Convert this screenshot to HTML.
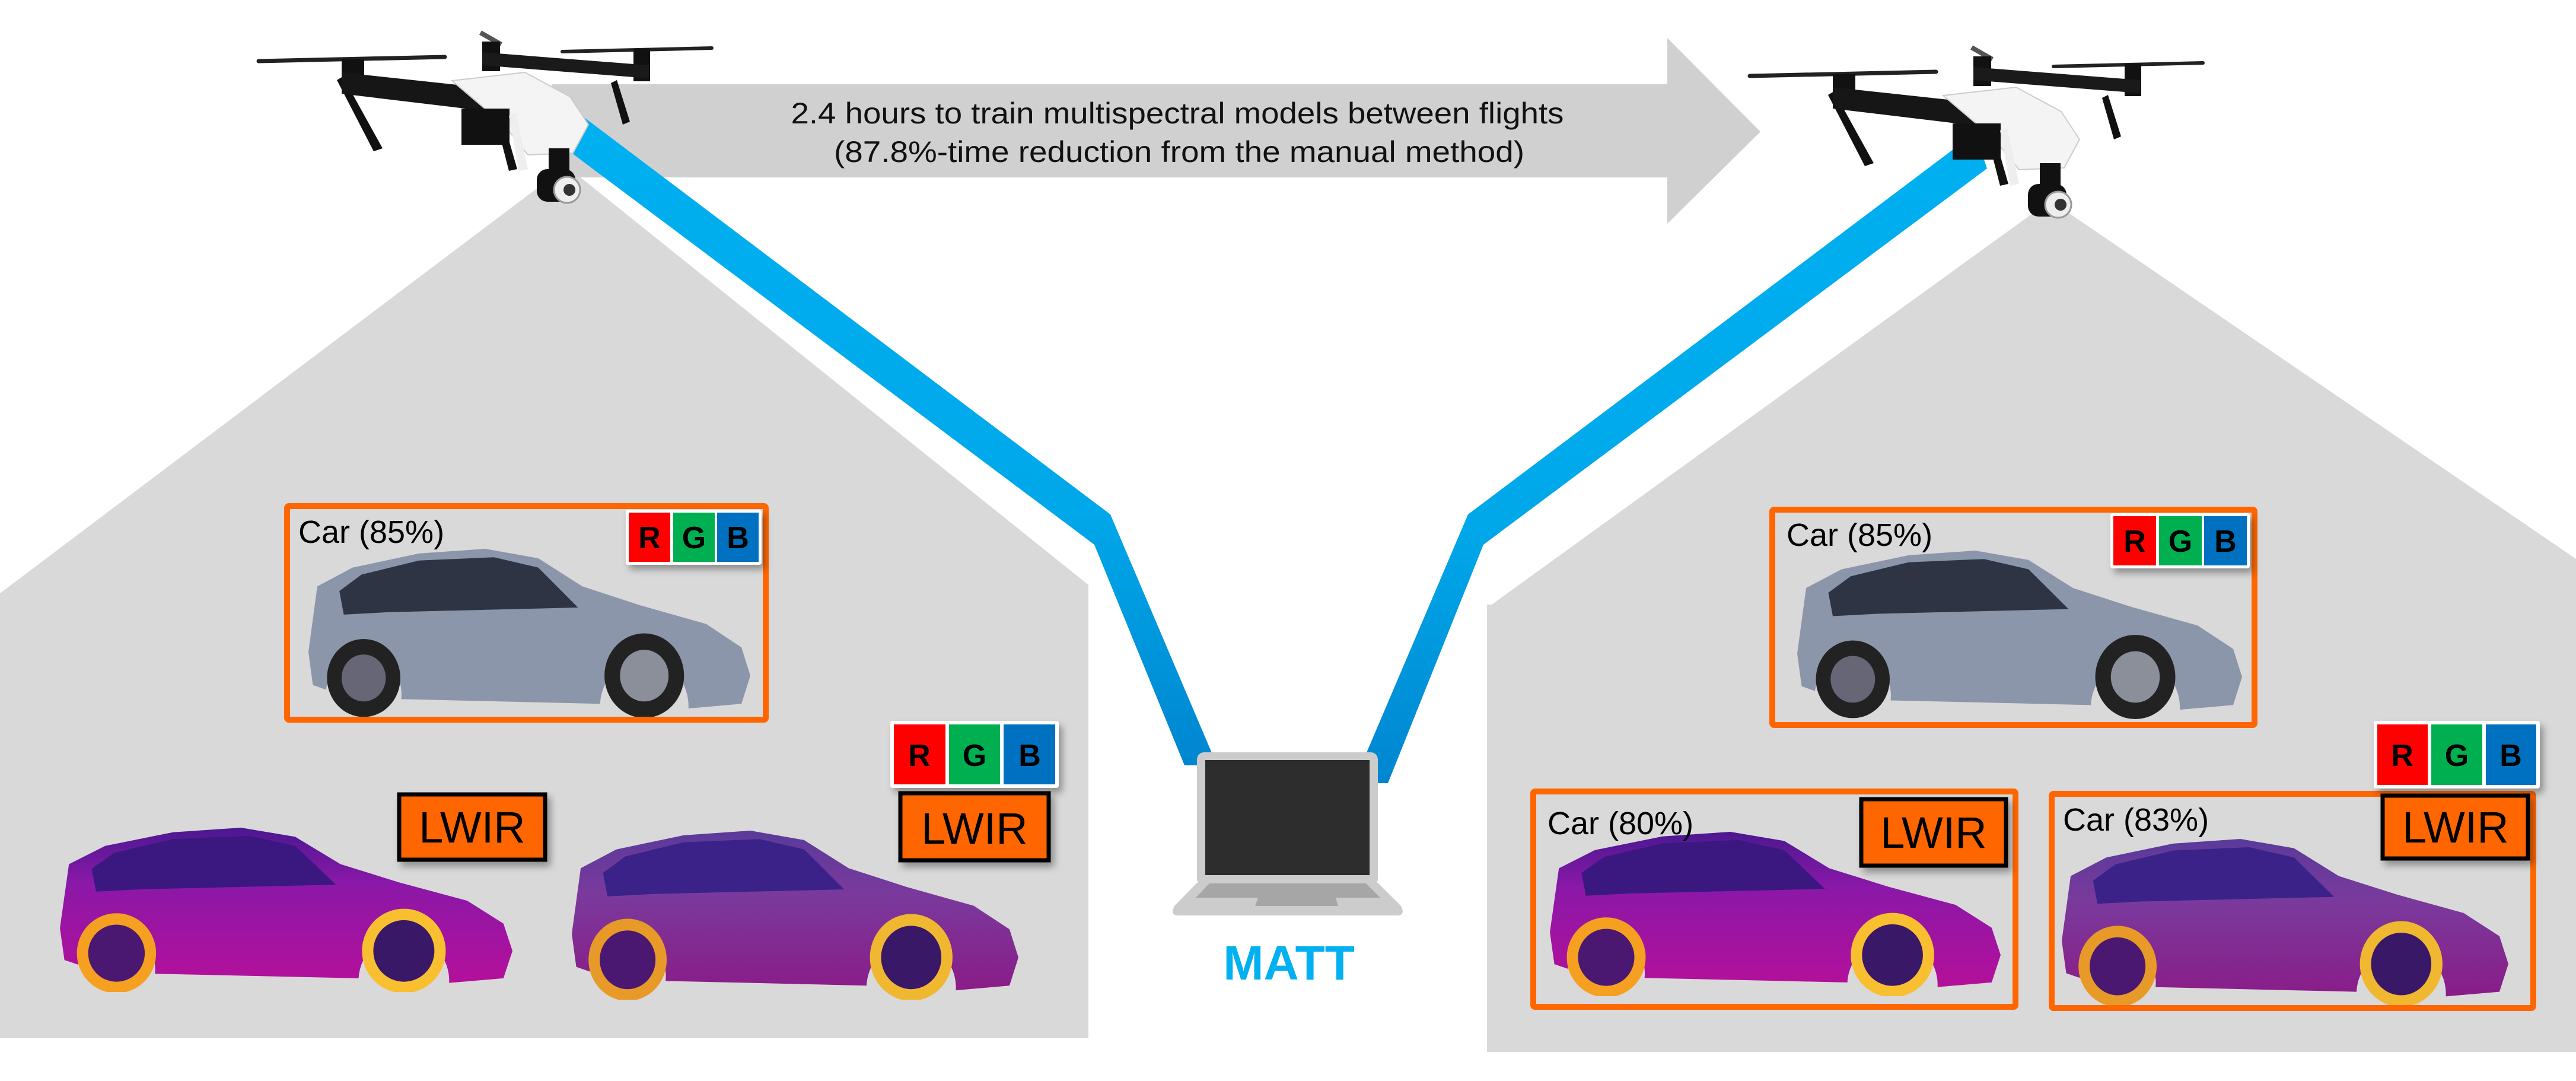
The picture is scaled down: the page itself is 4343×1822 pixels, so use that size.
<!DOCTYPE html>
<html><head><meta charset="utf-8"><style>
html,body{margin:0;padding:0;background:#fff;}
svg{display:block;}
text{font-family:"Liberation Sans",Arial,sans-serif;}
</style></head><body>
<svg width="4343" height="1822" viewBox="0 0 4343 1822" xmlns="http://www.w3.org/2000/svg">
<defs>
<linearGradient id="blue" x1="0" y1="0" x2="0" y2="1">
<stop offset="0" stop-color="#00b0f0"/><stop offset="0.6" stop-color="#00a8ea"/><stop offset="1" stop-color="#0086d0"/>
</linearGradient>
<filter id="sh" x="-20%" y="-20%" width="150%" height="150%"><feDropShadow dx="6" dy="8" stdDeviation="6" flood-color="#000" flood-opacity="0.35"/></filter>
<linearGradient id="therm1" x1="0" y1="0" x2="0" y2="1">
<stop offset="0" stop-color="#4a1890"/><stop offset="0.35" stop-color="#8a18a8"/><stop offset="1" stop-color="#b4109a"/>
</linearGradient>
<linearGradient id="therm2" x1="0" y1="0" x2="0" y2="1">
<stop offset="0" stop-color="#5a3a9a"/><stop offset="0.4" stop-color="#7a3a9c"/><stop offset="1" stop-color="#8a1c88"/>
</linearGradient>
<path id="carBody" d="M0,22 L2,8 L10,4 L25,1 L40,0 L52,2 L62,8 L75,12 L90,16 L98,21 L100,27 L98,33 L86,34 A9.5,9.5 0 0 0 66,33 L21,32 A8.5,8.5 0 0 0 4,30 L1,29 Z"/>
<path id="carWin" d="M7,9 L12,5.5 L25,2.5 L42,1.8 L52,4 L61,12.5 L18,13.5 L8,14 Z"/>
<symbol id="carRGB" viewBox="0 0 100 36" preserveAspectRatio="none">
<use href="#carBody" fill="#8c96aa"/>
<use href="#carWin" fill="#2e3444"/>
<circle cx="12.5" cy="27.5" r="8.3" fill="#222"/><circle cx="12.5" cy="27.5" r="5" fill="#667"/>
<circle cx="76" cy="27" r="9" fill="#222"/><circle cx="76" cy="27" r="5.5" fill="#8a8f9a"/>
</symbol>
<symbol id="carT1" viewBox="0 0 100 36" preserveAspectRatio="none">
<use href="#carBody" fill="url(#therm1)"/>
<use href="#carWin" fill="#3a1880"/>
<circle cx="12.5" cy="27.5" r="7.5" fill="#4a1870" stroke="#f5a020" stroke-width="2.5"/>
<circle cx="76" cy="27" r="8" fill="#3a1868" stroke="#f8c030" stroke-width="2.5"/>
</symbol>
<symbol id="carT2" viewBox="0 0 100 36" preserveAspectRatio="none">
<use href="#carBody" fill="url(#therm2)"/>
<use href="#carWin" fill="#3a2288"/>
<circle cx="12.5" cy="27.5" r="7.5" fill="#4a1870" stroke="#e89a28" stroke-width="2.5"/>
<circle cx="76" cy="27" r="8" fill="#3a1868" stroke="#f0b830" stroke-width="2.5"/>
</symbol>
<g id="drone">
<line x1="436" y1="103" x2="750" y2="96" stroke="#222" stroke-width="7" stroke-linecap="round"/>
<line x1="948" y1="87" x2="1200" y2="81" stroke="#222" stroke-width="6" stroke-linecap="round"/>
<path d="M810,55 L845,75" stroke="#555" stroke-width="8"/>
<rect x="813" y="70" width="30" height="50" fill="#111"/>
<rect x="1068" y="82" width="28" height="55" fill="#111"/>
<path d="M813,88 L1094,110 L1094,132 L813,110 Z" fill="#1a1a1a"/>
<path d="M1040,135 L1062,205 L1050,210 L1030,140 Z" fill="#111"/>
<rect x="576" y="100" width="38" height="42" fill="#111"/>
<path d="M578,129 L645,250 L630,255 L568,135 Z" fill="#111"/>
<path d="M576,122 L910,158 L910,198 L576,158 Z" fill="#161616"/>
<path d="M762,136 L885,122 L961,163 L992,210 L966,258 L890,261 L849,210 Z" fill="#f4f4f4" stroke="#ccc" stroke-width="2"/>
<rect x="778" y="183" width="81" height="61" fill="#111"/>
<path d="M849,205 L872,285 L858,288 L838,210 Z" fill="#111"/>
<path d="M870,190 L890,285 L875,288 L858,195 Z" fill="#eee"/>
<rect x="925" y="250" width="35" height="40" fill="#111"/>
<rect x="905" y="285" width="65" height="55" rx="18" fill="#111"/>
<circle cx="956" cy="320" r="22" fill="#eee" stroke="#999" stroke-width="3"/>
<circle cx="960" cy="320" r="10" fill="#333"/>
</g>
</defs>

<!-- gray regions -->
<polygon points="955,280 1834,985 1835,985 1835,1750 0,1750 0,1000" fill="#d9d9d9"/>
<polygon points="3457,338 4343,942 4343,1773 2507,1773 2507,1019 2515,1019" fill="#d9d9d9"/>

<!-- arrow -->
<polygon points="930,142 2811,142 2811,64 2968,222 2811,377 2811,299 930,299" fill="#d0d0d0"/>
<text x="1985" y="208" font-size="50" text-anchor="middle" textLength="1303" lengthAdjust="spacingAndGlyphs" fill="#111">2.4 hours to train multispectral models between flights</text>
<text x="1988" y="273" font-size="50" text-anchor="middle" textLength="1164" lengthAdjust="spacingAndGlyphs" fill="#111">(87.8%-time reduction from the manual method)</text>

<!-- blue lines -->
<polygon points="985,198 1872,867 2052,1290 1997,1290 1845,918 960,255" fill="url(#blue)"/>
<polygon points="3330,224 2475,867 2282,1320 2340,1320 2501,918 3350,284" fill="url(#blue)"/>

<!-- drones -->
<use href="#drone"/>
<use href="#drone" transform="translate(2514,25)"/>

<!-- laptop -->
<rect x="2018" y="1268" width="305" height="225" rx="12" fill="#cccccc"/>
<rect x="2032" y="1281" width="277" height="194" fill="#2c2d2c"/>
<path d="M2018,1488 L2323,1488 L2362,1527 Q2370,1543 2355,1543 L1987,1543 Q1972,1543 1980,1527 Z" fill="#cccccc"/>
<path d="M2039,1489 L2303,1489 L2327,1513 L2252,1513 L2256,1527 L2116,1527 L2121,1513 L2016,1513 Z" fill="#a6a6a6"/>
<text x="2173" y="1651" font-size="82" font-weight="bold" text-anchor="middle" fill="#00b0f0">MATT</text>

<!-- left top RGB box -->
<use href="#carRGB" x="520" y="925" width="745" height="285"/>
<rect x="484" y="853" width="807" height="360" fill="none" stroke="#ff6600" stroke-width="10" rx="3"/>
<text x="503" y="915" font-size="54" fill="#000">Car (85%)</text>

<!-- left thermal cars -->
<use href="#carT1" x="101" y="1395" width="763" height="277"/>
<use href="#carT2" x="964" y="1400" width="753" height="285"/>

<!-- right top RGB box -->
<use href="#carRGB" x="3030" y="928" width="750" height="284"/>
<rect x="2988" y="859" width="813" height="363" fill="none" stroke="#ff6600" stroke-width="10" rx="3"/>
<text x="3012" y="920" font-size="54" fill="#000">Car (85%)</text>

<!-- right lower boxes -->
<use href="#carT1" x="2613" y="1402" width="760" height="277"/>
<rect x="2585" y="1334" width="813" height="363" fill="none" stroke="#ff6600" stroke-width="10" rx="3"/>
<text x="2609" y="1406" font-size="54" fill="#000">Car (80%)</text>
<use href="#carT2" x="3476" y="1414" width="753" height="281"/>
<rect x="3459" y="1338" width="812" height="361" fill="none" stroke="#ff6600" stroke-width="10" rx="3"/>
<text x="3478" y="1400" font-size="54" fill="#000">Car (83%)</text>

<!-- RGB badges -->
<g filter="url(#sh)">
<rect x="1055" y="859" width="229" height="93" rx="4" fill="#fff"/>
<rect x="3558" y="865" width="235" height="93" rx="4" fill="#fff"/>
<rect x="1501" y="1215" width="284" height="113" rx="4" fill="#fff"/>
<rect x="4002" y="1215" width="280" height="114" rx="4" fill="#fff"/>
</g>
<g font-weight="bold" font-size="52" text-anchor="middle" fill="#000">
<rect x="1060" y="864" width="70" height="83" fill="#ff0000"/><rect x="1135" y="864" width="70" height="83" fill="#00b050"/><rect x="1209" y="864" width="70" height="83" fill="#0070c0"/>
<text x="1095" y="924">R</text><text x="1170" y="924">G</text><text x="1244" y="924">B</text>
<rect x="3563" y="870" width="72" height="83" fill="#ff0000"/><rect x="3640" y="870" width="72" height="83" fill="#00b050"/><rect x="3716" y="870" width="72" height="83" fill="#0070c0"/>
<text x="3599" y="930">R</text><text x="3676" y="930">G</text><text x="3752" y="930">B</text>
<rect x="1507" y="1221" width="87" height="101" fill="#ff0000"/><rect x="1600" y="1221" width="86" height="101" fill="#00b050"/><rect x="1692" y="1221" width="87" height="101" fill="#0070c0"/>
<text x="1550" y="1291">R</text><text x="1643" y="1291">G</text><text x="1736" y="1291">B</text>
<rect x="4008" y="1221" width="85" height="102" fill="#ff0000"/><rect x="4099" y="1221" width="86" height="102" fill="#00b050"/><rect x="4191" y="1221" width="85" height="102" fill="#0070c0"/>
<text x="4050" y="1291">R</text><text x="4142" y="1291">G</text><text x="4233" y="1291">B</text>
</g>

<!-- LWIR labels -->
<g filter="url(#sh)">
<rect x="673" y="1339" width="246" height="110" fill="#ff6600" stroke="#000" stroke-width="7"/>
<rect x="1518" y="1337" width="250" height="113" fill="#ff6600" stroke="#000" stroke-width="7"/>
<rect x="3138" y="1347" width="244" height="112" fill="#ff6600" stroke="#000" stroke-width="7"/>
<rect x="4017" y="1341" width="245" height="106" fill="#ff6600" stroke="#000" stroke-width="7"/>
</g>
<g font-size="74" text-anchor="middle" fill="#000">
<text x="796" y="1420">LWIR</text>
<text x="1643" y="1422">LWIR</text>
<text x="3260" y="1429">LWIR</text>
<text x="4140" y="1420">LWIR</text>
</g>
</svg>
</body></html>
